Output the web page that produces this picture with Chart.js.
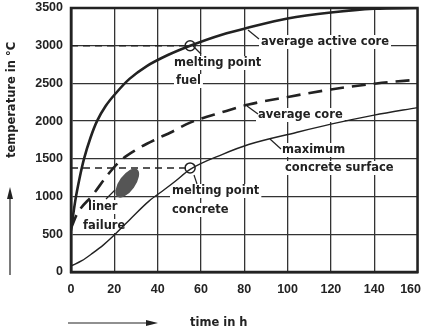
<!DOCTYPE html>
<html>
<head>
<meta charset="utf-8">
<script src="https://cdn.jsdelivr.net/npm/chart.js@4/dist/chart.umd.min.js"></script>
<style>
  html, body { margin: 0; padding: 0; background: #fff; }
  #wrap { width: 424px; height: 335px; }
</style>
</head>
<body>
<div id="wrap"><canvas id="tempChart"></canvas></div>
<script>
// time in h / temperature in degC
var activeCoreTime = [0, 2, 4, 6, 9, 12, 16, 21, 27, 35, 45, 55, 70, 82, 100, 120, 140, 160];
var activeCoreTemp = [550, 950, 1250, 1500, 1780, 2000, 2200, 2380, 2560, 2730, 2880, 3000, 3150, 3240, 3360, 3440, 3490, 3500];

var avgCoreTime = [0, 3, 10, 17, 23, 30, 40, 46, 55, 70, 82, 100, 120, 141, 160];
var avgCoreTemp = [580, 780, 1020, 1290, 1480, 1620, 1770, 1850, 1980, 2120, 2220, 2320, 2420, 2500, 2550];

var concreteTime = [0, 5, 10, 15, 20, 28, 36, 43, 48, 55, 70, 82, 104, 120, 140, 160];
var concreteTemp = [80, 150, 250, 360, 490, 720, 940, 1090, 1200, 1360, 1560, 1690, 1850, 1960, 2080, 2180];

var meltTime = [55, 55];
var meltTemp = [3000, 1380];   // fuel, concrete

var linerTime = 26, linerTemp = 1180;

var xTicks = [0, 20, 40, 60, 80, 100, 120, 140, 160];
var yTicks = [0, 500, 1000, 1500, 2000, 2500, 3000, 3500];

var INK = '#222';
var FONT = "'Liberation Sans', Arial, sans-serif";
var LFONT = "bold 11.5px 'DejaVu Sans', sans-serif";

function pts(ts, vs) {
  return ts.map(function (t, i) { return { x: t, y: vs[i] }; });
}

var labels = [
  { lines: ['melting point', 'fuel'], x: [174, 176], y: [63, 81] },
  { lines: ['average active core'], x: [261], y: [42] },
  { lines: ['average core'], x: [258], y: [115] },
  { lines: ['maximum', 'concrete surface'], x: [282, 285], y: [150, 168] },
  { lines: ['melting point', 'concrete'], x: [172, 172], y: [191, 210] },
  { lines: ['liner', 'failure'], x: [88, 83], y: [207, 226] }
];
var leaders = [
  [193, 46, 201, 54], [248, 30, 259, 39], [247, 106, 258, 114],
  [270, 139, 281, 149], [194, 175, 197, 184], [106, 199, 115, 190]
];

var decor = {
  id: 'decor',
  beforeDatasetsDraw: function (chart) {
    var c = chart.ctx;
    c.save();
    c.font = LFONT;
    c.fillStyle = '#fff';
    labels.forEach(function (l) {
      l.lines.forEach(function (s, i) {
        var w = c.measureText(s).width;
        c.fillRect(l.x[i] - 2, l.y[i] - 7, w + 4, 14);
      });
    });
    c.restore();
  },
  afterDatasetsDraw: function (chart) {
    var c = chart.ctx, a = chart.chartArea;
    var xs = chart.scales.x, ys = chart.scales.y;
    c.save();
    // liner failure blob
    c.fillStyle = '#555';
    c.beginPath();
    c.ellipse(xs.getPixelForValue(linerTime), ys.getPixelForValue(linerTemp), 17, 8, -0.95, 0, Math.PI * 2);
    c.fill();
    // frame
    c.strokeStyle = INK;
    c.lineWidth = 2.5;
    c.strokeRect(a.left, a.top, a.right - a.left, a.bottom - a.top);
    // leaders
    c.lineWidth = 1.2;
    leaders.forEach(function (s) {
      c.beginPath(); c.moveTo(s[0], s[1]); c.lineTo(s[2], s[3]); c.stroke();
    });
    // labels
    c.fillStyle = INK;
    c.font = LFONT;
    c.textBaseline = 'middle';
    labels.forEach(function (l) {
      l.lines.forEach(function (s, i) { c.fillText(s, l.x[i], l.y[i]); });
    });
    // axis titles + arrows
    c.fillText('time in h', 190, 323);
    c.beginPath(); c.moveTo(68, 323); c.lineTo(150, 323); c.stroke();
    c.beginPath(); c.moveTo(158, 323); c.lineTo(146, 320); c.lineTo(146, 326); c.closePath(); c.fill();
    c.beginPath(); c.moveTo(10, 275); c.lineTo(10, 196); c.stroke();
    c.beginPath(); c.moveTo(10, 187); c.lineTo(7, 199); c.lineTo(13, 199); c.closePath(); c.fill();
    c.translate(12, 100);
    c.rotate(-Math.PI / 2);
    c.textAlign = 'center';
    c.fillText('temperature in \u00b0C', 0, 0);
    c.restore();
  }
};

var ctx = document.getElementById('tempChart').getContext('2d');
var chart = new Chart(ctx, {
  type: 'line',
  data: {
    datasets: [
      { label: 'average active core', data: pts(activeCoreTime, activeCoreTemp), borderColor: INK, borderWidth: 2.6, pointRadius: 0, cubicInterpolationMode: 'monotone' },
      { label: 'average core', data: pts(avgCoreTime, avgCoreTemp), borderColor: INK, borderWidth: 2.6, borderDash: [14, 8], pointRadius: 0, cubicInterpolationMode: 'monotone' },
      { label: 'maximum concrete surface', data: pts(concreteTime, concreteTemp), borderColor: INK, borderWidth: 1.4, pointRadius: 0, cubicInterpolationMode: 'monotone' },
      { label: 'melting fuel ref', data: pts([0, meltTime[0]], [meltTemp[0], meltTemp[0]]), borderColor: INK, borderWidth: 1.5, borderDash: [7, 5], pointRadius: 0 },
      { label: 'melting concrete ref', data: pts([0, meltTime[1]], [meltTemp[1], meltTemp[1]]), borderColor: INK, borderWidth: 1.5, borderDash: [7, 5], pointRadius: 0 },
      { label: 'melting points', data: pts(meltTime, meltTemp), showLine: false, pointRadius: 5, pointBackgroundColor: 'rgba(255,255,255,0)', pointBorderColor: INK, pointBorderWidth: 1.5 }
    ]
  },
  options: {
    responsive: true,
    maintainAspectRatio: false,
    animation: false,
    layout: { padding: { top: 8, right: 3, left: 0, bottom: 0 } },
    plugins: { legend: { display: false }, tooltip: { enabled: false } },
    scales: {
      x: {
        type: 'linear', min: 0, max: 160,
        afterBuildTicks: function (s) { s.ticks = xTicks.map(function (v) { return { value: v }; }); },
        afterFit: function (s) { s.height = 63; s.paddingLeft = 0; s.paddingRight = 0; },
        ticks: {
          color: INK, padding: 10, maxRotation: 0,
          font: { family: FONT, size: 12.5, weight: 'bold' },
          callback: function (v) { return v === 160 ? '160    ' : String(v); }
        },
        grid: { color: '#333', lineWidth: 1.3, drawTicks: false },
        border: { color: INK, width: 2.5 }
      },
      y: {
        type: 'linear', min: 0, max: 3500,
        afterBuildTicks: function (s) { s.ticks = yTicks.map(function (v) { return { value: v }; }); },
        afterFit: function (s) { s.width = 71; s.paddingTop = 0; s.paddingBottom = 0; },
        ticks: {
          color: INK, padding: 8,
          font: { family: FONT, size: 12.5, weight: 'bold' },
          callback: function (v) { return String(v); }
        },
        grid: { color: '#333', lineWidth: 1.3, drawTicks: false },
        border: { color: INK, width: 2.5 }
      }
    }
  },
  plugins: [decor]
});
</script>
</body>
</html>
